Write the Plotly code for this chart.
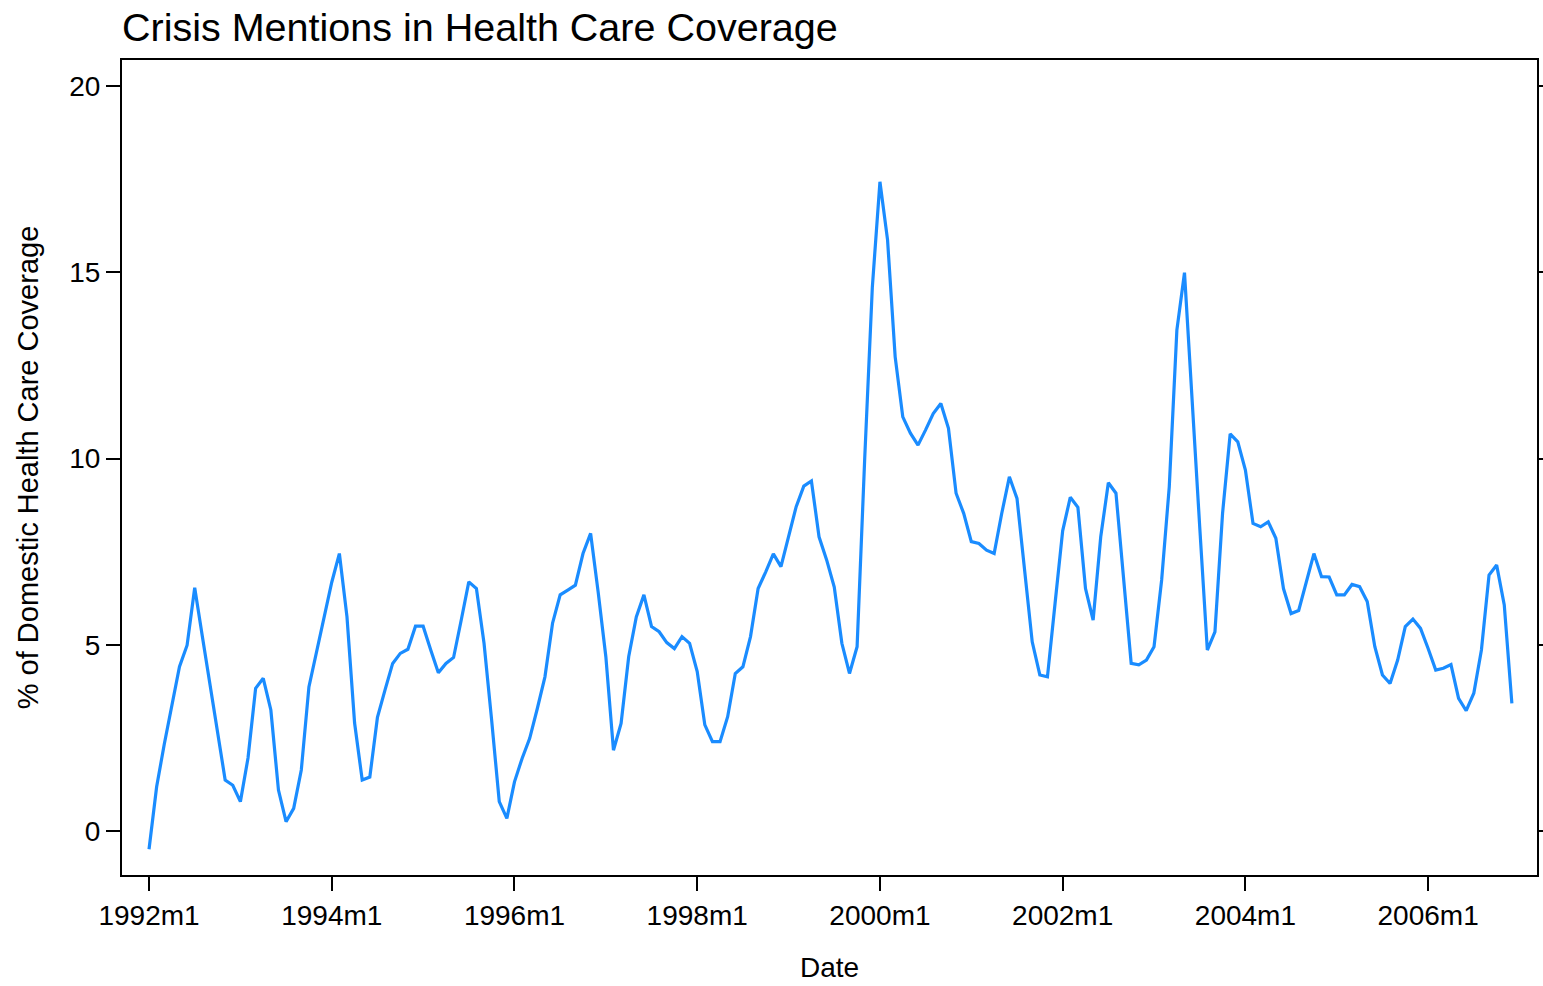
import plotly.graph_objects as go

# Monthly values, 1992m1 .. 2006m12 (180 months)
values = [
    -0.49, 1.19, 2.33, 3.36, 4.41, 4.99, 6.53, 5.23, 3.92, 2.62, 1.37, 1.23,   # 1992
    0.79, 1.96, 3.83, 4.10, 3.25, 1.10, 0.25, 0.61, 1.64, 3.87, 4.81, 5.75,    # 1993
    6.68, 7.45, 5.75, 2.90, 1.37, 1.45, 3.05, 3.79, 4.50, 4.77, 4.88, 5.50,    # 1994
    5.50, 4.86, 4.25, 4.50, 4.66, 5.66, 6.69, 6.51, 5.04, 2.98, 0.79, 0.34,    # 1995
    1.32, 1.95, 2.49, 3.29, 4.14, 5.58, 6.34, 6.47, 6.60, 7.45, 7.99, 6.40,    # 1996
    4.68, 2.17, 2.89, 4.68, 5.75, 6.34, 5.49, 5.35, 5.06, 4.90, 5.22, 5.04,    # 1997
    4.28, 2.85, 2.40, 2.40, 3.07, 4.23, 4.41, 5.22, 6.51, 6.96, 7.44, 7.10,    # 1998
    7.90, 8.71, 9.26, 9.40, 7.90, 7.28, 6.55, 5.04, 4.23, 4.95, 10.0, 14.6,    # 1999
    17.43, 15.87, 12.73, 11.12, 10.68, 10.36, 10.77, 11.21, 11.48, 10.81, 9.07, 8.53,  # 2000
    7.77, 7.72, 7.54, 7.45, 8.53, 9.51, 8.93, 7.00, 5.08, 4.19, 4.14, 6.11,    # 2001
    8.06, 8.96, 8.69, 6.51, 5.66, 7.90, 9.35, 9.07, 6.78, 4.50, 4.46, 4.59,    # 2002
    4.95, 6.74, 9.24, 13.45, 14.99, 11.75, 8.17, 4.86, 5.35, 8.53, 10.66, 10.45,  # 2003
    9.69, 8.26, 8.17, 8.30, 7.86, 6.51, 5.84, 5.92, 6.69, 7.45, 6.83, 6.82,    # 2004
    6.34, 6.34, 6.62, 6.56, 6.16, 4.95, 4.19, 3.96, 4.59, 5.49, 5.69, 5.44,    # 2005
    4.90, 4.32, 4.37, 4.47, 3.56, 3.23, 3.70, 4.86, 6.87, 7.14, 6.07, 3.43,    # 2006
]
months = list(range(len(values)))

tick_positions = [0, 24, 48, 72, 96, 120, 144, 168]
tick_labels = ["1992m1", "1994m1", "1996m1", "1998m1", "2000m1", "2002m1", "2004m1", "2006m1"]
y_ticks = [0, 5, 10, 15, 20]

FONT = "Liberation Sans, Arial, Helvetica, sans-serif"

fig = go.Figure()
fig.add_trace(go.Scatter(
    x=months, y=values, mode="lines",
    line=dict(color="rgb(26,140,255)", width=3.2),
    showlegend=False, hoverinfo="x+y",
))

fig.update_layout(
    width=1543, height=986,
    margin=dict(l=122, r=6, t=60, b=111),
    paper_bgcolor="white", plot_bgcolor="white",
    font=dict(family=FONT, color="black", size=28),
    title=dict(
        text="Crisis Mentions in Health Care Coverage",
        x=122 / 1543, xref="container", xanchor="left",
        y=1 - 27 / 986, yref="container", yanchor="middle",
        font=dict(family=FONT, size=39.5, color="black"),
        pad=dict(l=0, t=0, b=0, r=0),
    ),
)

fig.update_xaxes(
    range=[-3.55, 182.3],
    tickmode="array", tickvals=tick_positions, ticktext=tick_labels,
    ticks="outside", ticklen=14, tickwidth=2, tickcolor="black",
    showline=True, linecolor="black", linewidth=2, mirror=True,
    showgrid=False, zeroline=False,
    tickfont=dict(size=28),
    title=dict(text="Date", font=dict(size=28), standoff=28),
    automargin=False,
)
fig.update_yaxes(
    range=[-1.18, 20.7],
    tickmode="array", tickvals=y_ticks,
    ticks="outside", ticklen=14, tickwidth=2, tickcolor="black",
    showline=True, linecolor="black", linewidth=2, mirror="ticks",
    showgrid=False, zeroline=False,
    tickfont=dict(size=28),
    title=dict(text="% of Domestic Health Care Coverage", font=dict(size=29), standoff=22),
    automargin=False,
)

fig.write_html(
    "out.html",
    config={"displayModeBar": False},
    post_script="document.body.style.margin='0';document.body.style.overflow='hidden';",
)
